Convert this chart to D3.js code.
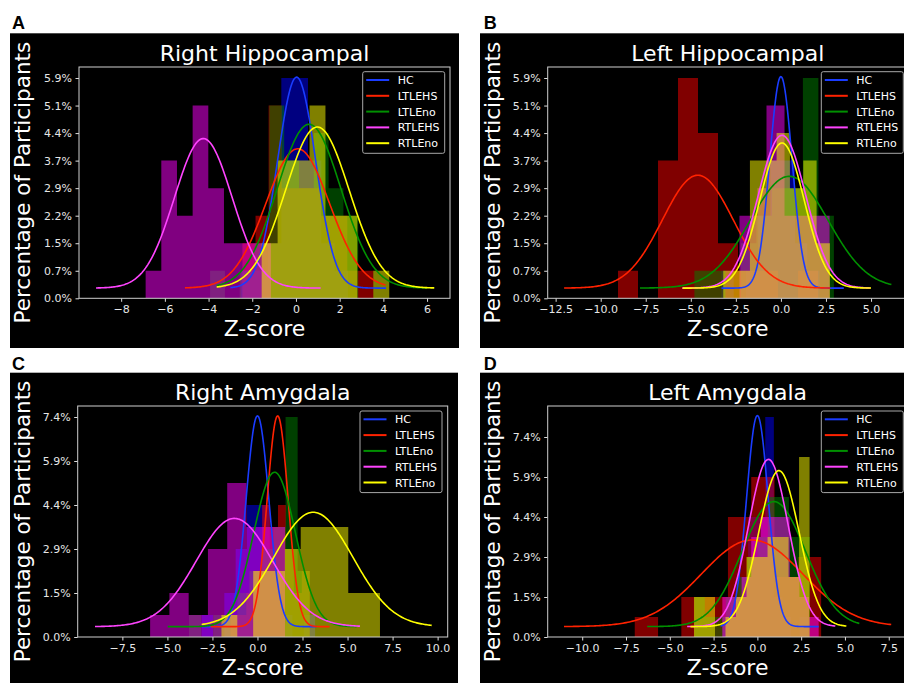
<!DOCTYPE html>
<html>
<head>
<meta charset="utf-8">
<script src="https://cdn.jsdelivr.net/npm/d3@7"></script>
<style>
  body { margin: 0; background: #fff; }
  text { font-family: "DejaVu Sans", sans-serif; }
</style>
</head>
<body>
<svg id="fig" width="904" height="683"></svg>
<script>
// groups and colours, same order in every panel
const groups = ["HC", "LTLEHS", "LTLEno", "RTLEHS", "RTLEno"];
const barColors = ["blue", "red", "green", "magenta", "yellow"];
const lineColors = ["#1a3cff", "#ff2200", "#009000", "#ff44ff", "#ffff00"];

// y ticks are participant counts, labelled as percentage of all participants
const countTicks8 = [0, 1, 2, 3, 4, 5, 6, 7, 8];
const pctLabels8 = ["0.0%", "0.7%", "1.5%", "2.2%", "2.9%", "3.7%", "4.4%", "5.1%", "5.9%"];
const countTicks10 = [0, 2, 4, 6, 8, 10];
const pctLabels10 = ["0.0%", "1.5%", "2.9%", "4.4%", "5.9%", "7.4%"];

// A - Right Hippocampal
const rhXTicks = [-8, -6, -4, -2, 0, 2, 4, 6];
const rhXLabels = ["−8", "−6", "−4", "−2", "0", "2", "4", "6"];
const rhBinStart = [-2.5, -2.45, -3.93, -6.88, -1.57];
const rhBinWidth = [0.61, 0.6, 0.678, 0.717, 0.73];
const rhCounts = [
  [1, 1, 2, 8, 8, 5, 2, 1],
  [2, 3, 7, 4, 4, 4, 3, 3, 1, 1],
  [1, 0, 1, 2, 7, 5, 4, 6, 4, 3],
  [1, 5, 3, 7, 4, 2, 2, 2],
  [2, 5, 5, 7, 3, 3, 0, 1]
];
const rhMean = [0.03, 0.08, 0.6, -4.24, 0.98];
const rhSd = [0.87, 1.46, 1.46, 1.32, 1.46];
const rhPeak = [8.03, 5.43, 6.32, 5.8, 6.22];
const rhFrom = [-3.0, -5.08, -3.63, -9.15, -3.63];
const rhTo = [4.12, 4.1, 6.0, 1.13, 6.33];

// B - Left Hippocampal
const lhXTicks = [-12.5, -10, -7.5, -5, -2.5, 0, 2.5, 5];
const lhXLabels = ["−12.5", "−10.0", "−7.5", "−5.0", "−2.5", "0.0", "2.5", "5.0"];
const lhBinStart = [-3.3, -9.04, -4.8, -2.3, -3.2];
const lhBinWidth = [0.68, 1.11, 0.86, 0.5, 0.74];
const lhCounts = [
  [1, 0, 1, 3, 5, 5, 2, 1],
  [1, 0, 5, 8, 6, 2, 1, 1, 0, 1],
  [1, 1, 0, 2, 3, 4, 4, 8, 3],
  [3, 3, 4, 7, 7, 3, 3, 3, 3, 3],
  [1, 1, 5, 5, 6, 4, 5, 2]
];
const lhMean = [0, -4.61, 0.46, 0.06, 0.06];
const lhSd = [0.62, 1.96, 2.16, 1.32, 1.23];
const lhPeak = [8.05, 4.47, 4.43, 5.92, 5.64];
const lhFrom = [-3.3, -12.03, -7.82, -5.47, -5.45];
const lhTo = [3.49, 2.74, 6.13, 4.96, 5.0];

// C - Right Amygdala
const raXTicks = [-7.5, -5, -2.5, 0, 2.5, 5, 7.5, 10];
const raXLabels = ["−7.5", "−5.0", "−2.5", "0.0", "2.5", "5.0", "7.5", "10.0"];
const raBinStart = [-3.1, -1.5, -3.8, -5.96, -2.0];
const raBinWidth = [0.63, 0.44, 0.67, 1.07, 0.88];
const raCounts = [
  [1, 0, 2, 4, 6, 6, 3, 1, 0, 1],
  [1, 1, 2, 3, 6, 5, 6, 4, 2, 3],
  [1, 0, 1, 1, 2, 3, 4, 5, 10, 3],
  [1, 2, 1, 4, 7, 5, 5],
  [1, 0, 3, 3, 4, 5, 5, 5, 2, 2]
];
const raMean = [0, 1.12, 0.95, -1.28, 3.1];
const raSd = [0.63, 0.58, 1.16, 2.12, 2.2];
const raPeak = [10.05, 10.05, 7.49, 5.39, 5.67];
const raFrom = [-3.1, -2.6, -4.98, -9.02, -3.1];
const raTo = [3.28, 4.0, 5.5, 5.69, 9.67];

// D - Left Amygdala
const laXTicks = [-10, -7.5, -5, -2.5, 0, 2.5, 5, 7.5];
const laXLabels = ["−10.0", "−7.5", "−5.0", "−2.5", "0.0", "2.5", "5.0", "7.5"];
const laBinStart = [-2.0, -7.0, -3.6, -2.0, -3.62];
const laBinWidth = [0.49, 1.33, 0.6, 0.55, 0.6];
const laCounts = [
  [1, 2, 3, 6, 6, 11, 2, 1, 0, 1],
  [1, 0, 2, 2, 6, 8, 3, 4],
  [2, 1, 1, 2, 3, 4, 5, 7, 7, 5, 5],
  [2, 2, 3, 5, 6, 6, 6, 3, 2, 1],
  [2, 2, 0, 1, 2, 4, 4, 5, 5, 3, 9]
];
const laMean = [0, -0.3, 0.94, 0.63, 1.23];
const laSd = [0.62, 2.9, 1.8, 1.13, 1.15];
const laPeak = [11.07, 4.85, 6.77, 8.88, 8.32];
const laFrom = [-2.1, -11.04, -6.29, -4.01, -3.82];
const laTo = [3.5, 7.64, 5.82, 4.45, 5.08];

// layout of the four panels
const panels = [
  { letter: "A", title: "Right Hippocampal", bg: [10, 33.3, 459, 348], lx: 12, ly: 29.3,
    left: 79, right: 450, top: 67, bottom: 298.3, xDomain: [-9.93, 7.05], yMax: 8.4, base: 0.37,
    yTicks: countTicks8, yLabels: pctLabels8, xTicks: rhXTicks, xLabels: rhXLabels, ylabX: 30, legend: [362.7, 71.7],
    start: rhBinStart, width: rhBinWidth, counts: rhCounts, mean: rhMean, sd: rhSd, peak: rhPeak, from: rhFrom, to: rhTo },
  { letter: "B", title: "Left Hippocampal", bg: [480, 33.3, 904, 348], lx: 483.7, ly: 29.3,
    left: 547.7, right: 907.8, top: 67, bottom: 298.3, xDomain: [-12.94, 7.04], yMax: 8.4, base: 0.37,
    yTicks: countTicks8, yLabels: pctLabels8, xTicks: lhXTicks, xLabels: lhXLabels, ylabX: 500, legend: [821.3, 71.7],
    start: lhBinStart, width: lhBinWidth, counts: lhCounts, mean: lhMean, sd: lhSd, peak: lhPeak, from: lhFrom, to: lhTo },
  { letter: "C", title: "Right Amygdala", bg: [10, 372.7, 458, 683], lx: 12, ly: 369.5,
    left: 77.7, right: 447.7, top: 406, bottom: 637, xDomain: [-9.98, 10.56], yMax: 10.5, base: 0.47,
    yTicks: countTicks10, yLabels: pctLabels10, xTicks: raXTicks, xLabels: raXLabels, ylabX: 30, legend: [360, 411],
    start: raBinStart, width: raBinWidth, counts: raCounts, mean: raMean, sd: raSd, peak: raPeak, from: raFrom, to: raTo },
  { letter: "D", title: "Left Amygdala", bg: [480, 372.7, 904, 683], lx: 483.7, ly: 369.5,
    left: 547.7, right: 907.5, top: 406, bottom: 637, xDomain: [-11.97, 8.57], yMax: 11.55, base: 0.52,
    yTicks: countTicks10, yLabels: pctLabels10, xTicks: laXTicks, xLabels: laXLabels, ylabX: 500, legend: [821.3, 411],
    start: laBinStart, width: laBinWidth, counts: laCounts, mean: laMean, sd: laSd, peak: laPeak, from: laFrom, to: laTo }
];

const svg = d3.select("#fig");

panels.forEach((p, pi) => {
  const g = svg.append("g");

  g.append("rect")
    .attr("x", p.bg[0]).attr("y", p.bg[1])
    .attr("width", p.bg[2] - p.bg[0]).attr("height", p.bg[3] - p.bg[1])
    .attr("fill", "#000");

  g.append("text")
    .attr("x", p.lx).attr("y", p.ly)
    .style("font-family", "'Liberation Sans', Arial, sans-serif")
    .style("font-weight", "bold").style("font-size", "18px")
    .attr("fill", "#000")
    .text(p.letter);

  const x = d3.scaleLinear().domain(p.xDomain).range([p.left, p.right]);
  const y = d3.scaleLinear().domain([0, p.yMax]).range([p.bottom, p.top]);

  svg.append("clipPath").attr("id", "clip" + pi)
    .append("rect")
    .attr("x", p.left).attr("y", p.top)
    .attr("width", p.right - p.left).attr("height", p.bottom - p.top);

  const plot = g.append("g").attr("clip-path", `url(#clip${pi})`);

  // histograms, one outline per group
  const histArea = d3.area()
    .x(d => x(d[0]))
    .y0(y(0))
    .y1(d => y(d[1]))
    .curve(d3.curveStepAfter);

  groups.forEach((name, k) => {
    const pts = p.counts[k].map((c, j) => [p.start[k] + j * p.width[k], c]);
    pts.push([p.start[k] + p.counts[k].length * p.width[k], 0]);
    plot.append("path")
      .attr("d", histArea(pts))
      .attr("fill", barColors[k])
      .attr("fill-opacity", 0.5);
  });

  // fitted normal curves
  const curveLine = d3.line().x(d => x(d[0])).y(d => y(d[1]));
  groups.forEach((name, k) => {
    const n = 200;
    const xs = d3.range(n + 1).map(i => p.from[k] + (p.to[k] - p.from[k]) * i / n);
    const pts = xs.map(v => {
      const z = (v - p.mean[k]) / p.sd[k];
      return [v, p.base + (p.peak[k] - p.base) * Math.exp(-0.5 * z * z)];
    });
    plot.append("path")
      .attr("d", curveLine(pts))
      .attr("fill", "none")
      .attr("stroke", lineColors[k])
      .attr("stroke-width", 1.6);
  });

  // axes
  const xAxis = d3.axisBottom(x)
    .tickValues(p.xTicks)
    .tickFormat((d, i) => p.xLabels[i])
    .tickSize(3.5).tickPadding(3.5);
  const yAxis = d3.axisLeft(y)
    .tickValues(p.yTicks)
    .tickFormat((d, i) => p.yLabels[i])
    .tickSize(3.5).tickPadding(3.5);

  const styleAxis = a => {
    a.select(".domain").remove();
    a.selectAll(".tick line").attr("stroke", "#dddddd");
    a.selectAll(".tick text")
      .attr("fill", "#e6e6e6")
      .style("font-family", "'DejaVu Sans', sans-serif")
      .style("font-size", "11px");
  };

  g.append("g").attr("transform", `translate(0,${p.bottom})`).call(xAxis).call(styleAxis);
  g.append("g").attr("transform", `translate(${p.left},0)`).call(yAxis).call(styleAxis);

  g.append("rect")
    .attr("x", p.left).attr("y", p.top)
    .attr("width", p.right - p.left).attr("height", p.bottom - p.top)
    .attr("fill", "none").attr("stroke", "#cfcfcf").attr("stroke-width", 1);

  // title and axis labels
  const cx = (p.left + p.right) / 2;
  g.append("text")
    .attr("x", cx).attr("y", p.top - 6.3)
    .attr("text-anchor", "middle").attr("fill", "#fff")
    .style("font-size", "22px")
    .text(p.title);

  g.append("text")
    .attr("x", cx).attr("y", p.bottom + 38)
    .attr("text-anchor", "middle").attr("fill", "#fff")
    .style("font-size", "22px")
    .text("Z-score");

  g.append("text")
    .attr("transform", `translate(${p.ylabX},${(p.top + p.bottom) / 2}) rotate(-90)`)
    .attr("text-anchor", "middle").attr("fill", "#fff")
    .style("font-size", "21.5px")
    .text("Percentage of Participants");

  // legend
  const lg = g.append("g").attr("transform", `translate(${p.legend[0]},${p.legend[1]})`);
  lg.append("rect")
    .attr("width", 82).attr("height", 81.6).attr("rx", 2)
    .attr("fill", "#000").attr("stroke", "#a8a8a8").attr("stroke-width", 1);
  groups.forEach((name, k) => {
    const ey = 8.3 + k * 15.8;
    lg.append("line")
      .attr("x1", 3.5).attr("x2", 26.5).attr("y1", ey).attr("y2", ey)
      .attr("stroke", lineColors[k]).attr("stroke-width", 2);
    lg.append("text")
      .attr("x", 35).attr("y", ey + 4)
      .attr("fill", "#fff").style("font-size", "11px")
      .text(name);
  });
});
</script>
</body>
</html>
